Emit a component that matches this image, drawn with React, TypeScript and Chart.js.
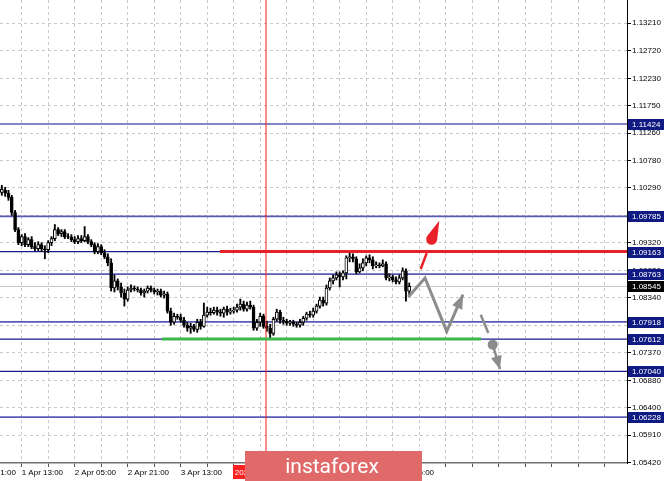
import React, { useEffect, useRef } from 'react';
import { Chart, registerables } from 'chart.js';

Chart.register(...registerables);

// ---- candles (H1), bar index 0 = 1 Apr 13:00 ----
const FIRST_BAR = -6;
const OPEN = [
  1.10213, 1.10249, 1.10196, 1.10124, 1.09856, 1.09553,
  1.09321, 1.09428, 1.09285, 1.09374, 1.09249, 1.09213, 1.09285, 1.09213, 1.09196, 1.09321,
  1.09392, 1.09553, 1.09481, 1.09517, 1.09428, 1.09419, 1.09374, 1.09338, 1.09392, 1.09356,
  1.09428, 1.09338, 1.09285, 1.09160, 1.09249, 1.09142, 1.09071, 1.08963, 1.08517, 1.08642,
  1.08535, 1.08428, 1.08321, 1.08481, 1.08517, 1.08499, 1.08481, 1.08428, 1.08463, 1.08517,
  1.08481, 1.08446, 1.08463, 1.08392, 1.08410, 1.08106, 1.07910, 1.08017, 1.07999, 1.07946,
  1.07856, 1.07803, 1.07838, 1.07785, 1.07910, 1.07838, 1.08035, 1.08088, 1.08080, 1.08124,
  1.08088, 1.08071, 1.08142, 1.08088, 1.08106, 1.08124, 1.08178, 1.08231, 1.08142, 1.08213,
  1.08178, 1.07803, 1.07910, 1.08017, 1.07838, 1.07803, 1.07713, 1.07963, 1.08088, 1.07946,
  1.07928, 1.07892, 1.07910, 1.07874, 1.07856, 1.07910, 1.07981, 1.08053, 1.08035, 1.08106,
  1.08196, 1.08303, 1.08249, 1.08517, 1.08642, 1.08696, 1.08749, 1.08713, 1.08785, 1.09053,
  1.09071, 1.09035, 1.08803, 1.08874, 1.08963, 1.09053, 1.09017, 1.08910, 1.08928, 1.08910,
  1.08946, 1.08696, 1.08713, 1.08660, 1.08624, 1.08696, 1.08821, 1.08463,
];
const HIGH = [
  1.10338, 1.10303, 1.10249, 1.10160, 1.09892, 1.09588,
  1.09463, 1.09481, 1.09410, 1.09428, 1.09321, 1.09338, 1.09321, 1.09267, 1.09356, 1.09428,
  1.09642, 1.09588, 1.09553, 1.09553, 1.09481, 1.09463, 1.09428, 1.09446, 1.09446, 1.09606,
  1.09463, 1.09374, 1.09321, 1.09303, 1.09285, 1.09196, 1.09124, 1.09035, 1.08749, 1.08678,
  1.08606, 1.08499, 1.08535, 1.08571, 1.08553, 1.08535, 1.08517, 1.08499, 1.08553, 1.08553,
  1.08517, 1.08499, 1.08499, 1.08463, 1.08446, 1.08160, 1.08071, 1.08053, 1.08053, 1.07999,
  1.07910, 1.07892, 1.07874, 1.07963, 1.07963, 1.08249, 1.08178, 1.08160, 1.08178, 1.08178,
  1.08142, 1.08178, 1.08196, 1.08160, 1.08178, 1.08231, 1.08321, 1.08285, 1.08267, 1.08285,
  1.08213, 1.07963, 1.08071, 1.08053, 1.07928, 1.07874, 1.07999, 1.08142, 1.08124, 1.07999,
  1.07963, 1.07946, 1.07946, 1.07910, 1.07963, 1.08017, 1.08088, 1.08106, 1.08160, 1.08231,
  1.08356, 1.08356, 1.08571, 1.08696, 1.08749, 1.08803, 1.08803, 1.08821, 1.09088, 1.09142,
  1.09124, 1.09071, 1.08946, 1.09035, 1.09088, 1.09106, 1.09071, 1.08981, 1.08963, 1.09017,
  1.08981, 1.08767, 1.08749, 1.08713, 1.08749, 1.08874, 1.08856, 1.08606,
];
const LOW = [
  1.10160, 1.10142, 1.10071, 1.09803, 1.09517, 1.09285,
  1.09267, 1.09249, 1.09249, 1.09213, 1.09178, 1.09178, 1.09160, 1.09035, 1.09142, 1.09267,
  1.09356, 1.09446, 1.09428, 1.09392, 1.09392, 1.09338, 1.09303, 1.09303, 1.09321, 1.09338,
  1.09303, 1.09249, 1.09124, 1.09124, 1.09106, 1.09035, 1.08910, 1.08463, 1.08446, 1.08481,
  1.08356, 1.08196, 1.08285, 1.08446, 1.08463, 1.08446, 1.08392, 1.08356, 1.08428, 1.08446,
  1.08410, 1.08392, 1.08356, 1.08338, 1.08071, 1.07856, 1.07874, 1.07963, 1.07910, 1.07821,
  1.07749, 1.07713, 1.07749, 1.07731, 1.07785, 1.07821, 1.07999, 1.08035, 1.08053, 1.08035,
  1.08017, 1.07999, 1.08035, 1.08053, 1.08071, 1.08088, 1.08124, 1.08106, 1.08106, 1.08142,
  1.07767, 1.07767, 1.07838, 1.07803, 1.07749, 1.07624, 1.07678, 1.07928, 1.07892, 1.07874,
  1.07856, 1.07856, 1.07838, 1.07821, 1.07821, 1.07856, 1.07946, 1.07999, 1.07999, 1.08071,
  1.08160, 1.08196, 1.08213, 1.08481, 1.08588, 1.08660, 1.08535, 1.08660, 1.08678, 1.08981,
  1.08981, 1.08767, 1.08785, 1.08821, 1.08910, 1.08963, 1.08856, 1.08874, 1.08874, 1.08892,
  1.08660, 1.08642, 1.08624, 1.08588, 1.08588, 1.08660, 1.08285, 1.08392,
];
const CLOSE = [
  1.10267, 1.10196, 1.10124, 1.09856, 1.09553, 1.09321,
  1.09428, 1.09285, 1.09374, 1.09249, 1.09213, 1.09285, 1.09213, 1.09196, 1.09321, 1.09392,
  1.09553, 1.09481, 1.09517, 1.09428, 1.09419, 1.09374, 1.09338, 1.09392, 1.09356, 1.09428,
  1.09338, 1.09285, 1.09160, 1.09249, 1.09142, 1.09071, 1.08963, 1.08517, 1.08642, 1.08535,
  1.08428, 1.08321, 1.08481, 1.08517, 1.08499, 1.08481, 1.08428, 1.08463, 1.08517, 1.08481,
  1.08446, 1.08463, 1.08392, 1.08410, 1.08106, 1.07910, 1.08017, 1.07999, 1.07946, 1.07856,
  1.07803, 1.07838, 1.07785, 1.07910, 1.07838, 1.08035, 1.08088, 1.08080, 1.08124, 1.08088,
  1.08071, 1.08142, 1.08088, 1.08106, 1.08124, 1.08178, 1.08231, 1.08142, 1.08213, 1.08178,
  1.07803, 1.07910, 1.08017, 1.07838, 1.07803, 1.07713, 1.07963, 1.08088, 1.07946, 1.07928,
  1.07892, 1.07910, 1.07874, 1.07856, 1.07910, 1.07981, 1.08053, 1.08035, 1.08106, 1.08196,
  1.08303, 1.08249, 1.08517, 1.08642, 1.08696, 1.08749, 1.08713, 1.08785, 1.09053, 1.09071,
  1.09035, 1.08803, 1.08874, 1.08963, 1.09053, 1.09017, 1.08910, 1.08928, 1.08910, 1.08946,
  1.08696, 1.08713, 1.08660, 1.08624, 1.08696, 1.08821, 1.08463, 1.08545,
];

// ---- axes ----
const X_MIN = -6.55;
const X_MAX = 182.73;
const Y_MIN = 1.05415;
const Y_MAX = 1.13622;
const Y_TICKS = [1.0542, 1.0591, 1.064, 1.0688, 1.0737, 1.0786, 1.0834, 1.0883, 1.0932, 1.098, 1.1029, 1.1078, 1.1126, 1.1175, 1.1223, 1.1272, 1.1321];
const X_GRID = [0, 8, 16, 24, 32, 40, 48, 56, 64, 72, 80, 88, 96, 104, 112, 120, 128, 136, 144, 152, 160, 168, 176];
const X_LABEL_AT = [-16, 0, 16, 32, 48, 64, 80, 96, 112];
const X_LABELS = ['31 Mar 21:00', '1 Apr 13:00', '2 Apr 05:00', '2 Apr 21:00', '3 Apr 13:00', '6 Apr 05:00', '6 Apr 21:00', '7 Apr 13:00', '8 Apr 05:00'];

// ---- levels & drawings ----
const LEVELS = [1.11424, 1.09785, 1.09163, 1.08763, 1.07918, 1.07612, 1.0704, 1.06228];
const LEVEL_TONE = ['light', 'light', 'dark', 'light', 'light', 'dark', 'dark', 'light'];
const BID = 1.08545;
const RESIST_X = [59.86, X_MAX];
const RESIST_Y = 1.09163;
const SUPPORT_X = [42.35, 138.66];
const SUPPORT_Y = 1.07612;
const VLINE_X = 73.75;
const VLINE_LABEL = '2020.04.06 15:00';
const ZIGZAG_X = [116.71, 121.75, 128.3, 133.22];
const ZIGZAG_Y = [1.08357, 1.08694, 1.07748, 1.08398];
const RED_X = [120.45, 122.26];
const RED_Y = [1.08853, 1.09136];
const DROP_X = [123.77, 126.07];
const DROP_Y = [1.09381, 1.09708];
const DASH_X = [138.57, 140.86];
const DASH_Y = [1.08044, 1.0772];
const DOWN_X = [142.19, 144.39];
const DOWN_Y = [1.07513, 1.07079];

const FONT = '"Liberation Sans", Arial, sans-serif';

function pts(xs: number[], ys: number[]) {
  return xs.map((x, k) => ({ x, y: ys[k] }));
}

function arrowHead(ctx: CanvasRenderingContext2D, x1: number, y1: number, x2: number, y2: number, len: number, half: number, color: string) {
  const a = Math.atan2(y2 - y1, x2 - x1);
  const bx = x2 - len * Math.cos(a);
  const by = y2 - len * Math.sin(a);
  ctx.beginPath();
  ctx.moveTo(x2, y2);
  ctx.lineTo(bx + half * Math.sin(a), by - half * Math.cos(a));
  ctx.lineTo(bx - half * Math.sin(a), by + half * Math.cos(a));
  ctx.closePath();
  ctx.fillStyle = color;
  ctx.fill();
}

const overlay = {
  id: 'overlay',
  afterDraw(chart: any) {
    const ctx: CanvasRenderingContext2D = chart.ctx;
    const xs = chart.scales.x;
    const ys = chart.scales.y;
    const px = (v: number) => xs.getPixelForValue(v);
    const py = (v: number) => ys.getPixelForValue(v);
    const area = chart.chartArea;
    ctx.save();

    ctx.save();
    ctx.beginPath();
    ctx.rect(area.left, area.top, area.right - area.left, area.bottom - area.top);
    ctx.clip();
    const n = ZIGZAG_X.length;
    arrowHead(ctx, px(ZIGZAG_X[n - 2]), py(ZIGZAG_Y[n - 2]), px(ZIGZAG_X[n - 1]), py(ZIGZAG_Y[n - 1]), 14, 5.5, '#8c8c8c');
    arrowHead(ctx, px(DOWN_X[0]), py(DOWN_Y[0]), px(DOWN_X[1]), py(DOWN_Y[1]), 13, 5.5, '#8c8c8c');
    const cx = px(DROP_X[0]);
    const cy = py(DROP_Y[0]);
    const tx = px(DROP_X[1]);
    const ty = py(DROP_Y[1]);
    const r = 5.5;
    const d = Math.hypot(tx - cx, ty - cy);
    const a = Math.atan2(ty - cy, tx - cx);
    const beta = Math.acos(Math.min(1, r / d));
    ctx.beginPath();
    ctx.moveTo(tx, ty);
    ctx.lineTo(cx + r * Math.cos(a + beta), cy + r * Math.sin(a + beta));
    ctx.arc(cx, cy, r, a + beta, a - beta + Math.PI * 2, false);
    ctx.closePath();
    ctx.fillStyle = '#e8202a';
    ctx.fill();
    ctx.restore();

    // time label left of the visible range
    ctx.font = `8px ${FONT}`;
    ctx.fillStyle = '#000';
    ctx.textAlign = 'left';
    ctx.textBaseline = 'middle';
    ctx.fillText(X_LABELS[0], px(X_LABEL_AT[0]), area.bottom + 9.5);

    // price boxes on the right axis
    const boxX = ys.left + 1;
    const boxW = chart.width - boxX - 1;
    const box = (v: number, bg: string) => {
      const y = Math.round(py(v));
      ctx.fillStyle = bg;
      ctx.fillRect(boxX, y - 5, boxW, 11);
      ctx.fillStyle = '#ffffff';
      ctx.font = `8px ${FONT}`;
      ctx.textAlign = 'left';
      ctx.textBaseline = 'middle';
      ctx.fillText(v.toFixed(5), boxX + 4, y + 0.5);
    };
    LEVELS.forEach((v) => box(v, '#0f1a82'));
    box(BID, '#000000');

    // red time label of the vertical line
    const vx = px(VLINE_X);
    ctx.fillStyle = '#ff2020';
    ctx.fillRect(vx - 33, area.bottom + 2, 66, 14);
    ctx.fillStyle = '#ffffff';
    ctx.font = `8px ${FONT}`;
    ctx.textAlign = 'center';
    ctx.fillText(VLINE_LABEL, vx, area.bottom + 9.5);

    // watermark logo
    ctx.fillStyle = '#e06a6a';
    ctx.fillRect(245, 451, 177, 30);
    ctx.fillStyle = '#ffffff';
    ctx.font = '21px Roboto, "Open Sans", sans-serif';
    ctx.textAlign = 'center';
    ctx.textBaseline = 'alphabetic';
    ctx.fillText('instaforex', 332, 473);

    ctx.restore();
  },
};

export default function App() {
  const ref = useRef<HTMLCanvasElement | null>(null);

  useEffect(() => {
    const canvas = ref.current;
    if (!canvas) return;

    const bodies = OPEN.map((o, k) => ({ x: FIRST_BAR + k, y: [o, CLOSE[k]] }));
    const wicks = OPEN.map((_, k) => ({ x: FIRST_BAR + k, y: [LOW[k], HIGH[k]] }));
    const bodyFill = OPEN.map((o, k) => (CLOSE[k] >= o ? '#ffffff' : '#000000'));

    const line = (data: any[], color: string, width: number, order: number, extra: any = {}) => ({
      type: 'line' as const,
      data,
      borderColor: color,
      backgroundColor: color,
      borderWidth: width,
      pointRadius: 0,
      fill: false,
      tension: 0,
      order,
      ...extra,
    });

    const datasets: any[] = [
      ...LEVELS.map((v, k) =>
        line([{ x: X_MIN, y: v }, { x: X_MAX, y: v }], LEVEL_TONE[k] === 'dark' ? '#1a1a8c' : '#5b5bb6', LEVEL_TONE[k] === 'dark' ? 1.2 : 1.7, 7)
      ),
      line([{ x: X_MIN, y: BID }, { x: X_MAX, y: BID }], '#c4c4c4', 1, 8),
      {
        type: 'bar',
        data: wicks,
        backgroundColor: '#000000',
        borderWidth: 0,
        barThickness: 1.2,
        grouped: false,
        order: 5,
      },
      {
        type: 'bar',
        data: bodies,
        backgroundColor: bodyFill,
        borderColor: '#000000',
        borderWidth: 1,
        borderSkipped: false,
        barThickness: 3,
        grouped: false,
        order: 4,
      },
      line([{ x: VLINE_X, y: Y_MIN }, { x: VLINE_X, y: Y_MAX }], '#ff1a1a', 1, 3),
      line(pts(RESIST_X, [RESIST_Y, RESIST_Y]), '#e8202a', 3, 2),
      line(pts(SUPPORT_X, [SUPPORT_Y, SUPPORT_Y]), '#3cb84a', 3, 2),
      line(pts(ZIGZAG_X, ZIGZAG_Y), '#8c8c8c', 3, 1),
      line(pts(RED_X, RED_Y), '#e8202a', 2.5, 1),
      line(pts(DASH_X, DASH_Y), '#8c8c8c', 2.5, 1),
      line(pts(DOWN_X, DOWN_Y), '#8c8c8c', 2.5, 1),
      line([{ x: DOWN_X[0], y: DOWN_Y[0] }], '#8c8c8c', 0, 1, { pointRadius: 5, pointBorderWidth: 0, showLine: false }),
    ];

    const chart = new Chart(canvas, {
      type: 'bar',
      data: { datasets },
      options: {
        responsive: false,
        animation: false,
        events: [],
        layout: { padding: 0, autoPadding: false },
        plugins: { legend: { display: false }, tooltip: { enabled: false } },
        scales: {
          x: {
            type: 'linear',
            min: X_MIN,
            max: X_MAX,
            offset: false,
            grid: { offset: false, color: '#c8c8c8', lineWidth: 1, tickColor: '#555555', tickLength: 4 },
            border: { display: true, color: '#707070', width: 1.5, dash: [3, 3] },
            ticks: {
              autoSkip: false,
              maxRotation: 0,
              minRotation: 0,
              align: 'start',
              padding: 1,
              color: '#000000',
              font: { family: FONT, size: 8 },
              callback: (v: any) => {
                const k = X_LABEL_AT.indexOf(Number(v));
                return k >= 0 ? X_LABELS[k] : '';
              },
            },
            afterBuildTicks: (s: any) => {
              s.ticks = X_GRID.map((v) => ({ value: v }));
            },
            afterFit: (s: any) => {
              s.height = 18;
              s.paddingLeft = 0;
              s.paddingRight = 0;
            },
          } as any,
          y: {
            type: 'linear',
            position: 'right',
            min: Y_MIN,
            max: Y_MAX,
            grid: { color: '#c8c8c8', lineWidth: 1, tickColor: '#000000', tickLength: 4 },
            border: { display: true, color: '#000000', width: 1, dash: [3, 3] },
            ticks: {
              autoSkip: false,
              padding: 1,
              color: '#000000',
              font: { family: FONT, size: 8 },
              callback: (v: any) => Number(v).toFixed(5),
            },
            afterBuildTicks: (s: any) => {
              s.ticks = Y_TICKS.map((v) => ({ value: v }));
            },
            afterFit: (s: any) => {
              s.width = 38;
              s.paddingTop = 0;
              s.paddingBottom = 0;
            },
          } as any,
        },
      },
      plugins: [overlay],
    });

    return () => chart.destroy();
  }, []);

  return (
    <div style={{ position: 'fixed', left: 0, top: 0, width: 665, height: 481, background: '#ffffff' }}>
      <canvas ref={ref} width={665} height={481} style={{ display: 'block', width: 665, height: 481 }} />
    </div>
  );
}
